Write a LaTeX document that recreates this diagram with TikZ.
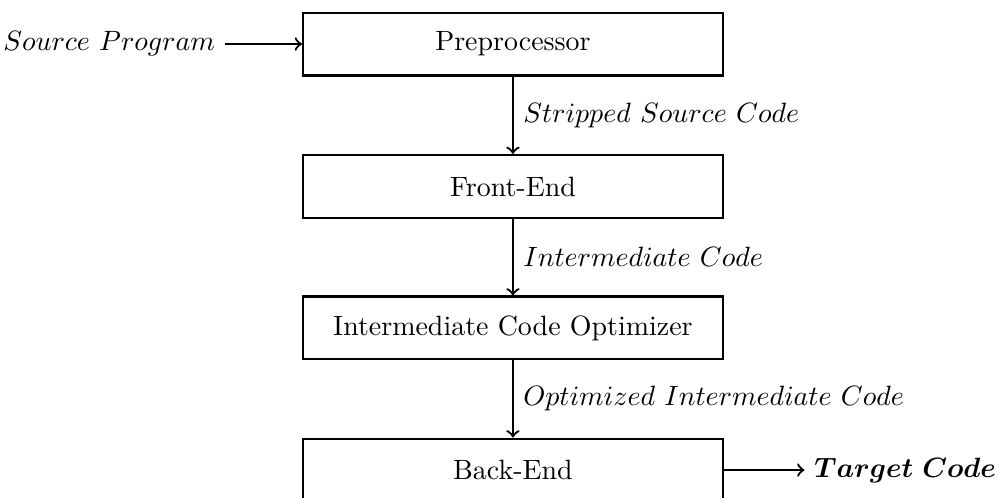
\documentclass[tikz,border=0pt]{standalone}
\usepackage{amsmath}
\tikzset{stage/.style={draw, thick, rectangle, minimum width=5.28cm, minimum height=0.79cm}}
\tikzset{flow/.style={thick, ->}}

\begin{document}
\begin{tikzpicture}
        \useasboundingbox (0,0) rectangle (12.53,-6.265);

        \node[stage] (pre) at (6.453, -0.554) {Preprocessor};
        \node[stage] (fe)  at (6.453, -2.346) {Front-End};
        \node[stage] (ico) at (6.453, -4.126) {Intermediate Code Optimizer};
        \node[stage] (be)  at (6.453, -5.913) {Back-End};

        \node[anchor=east] (src) at (2.83, -0.554) {$Source\ Program$};
        \node[anchor=west] (tgt) at (10.12, -5.913) {$\boldsymbol{Target\ Code}$};

        \draw [flow] (src) -- (pre);
        \draw [flow] (pre) -- node[right] {$Stripped\ Source\ Code$} (fe);
        \draw [flow] (fe) -- node[right] {$Intermediate\ Code$} (ico);
        \draw [flow] (ico) -- node[right] {$Optimized\ Intermediate\ Code$} (be);
        \draw [flow] (be) -- (tgt);

    \end{tikzpicture}
\end{document}
